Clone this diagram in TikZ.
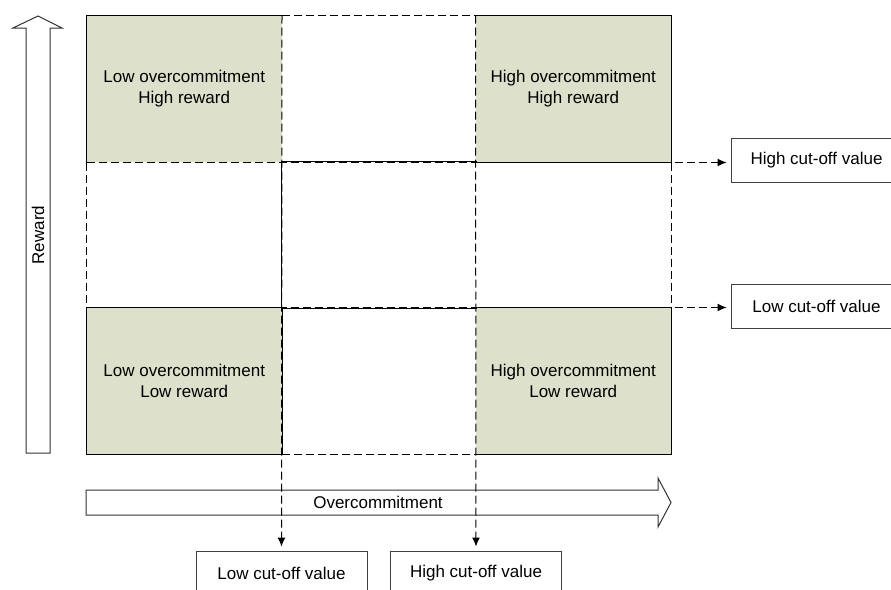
\documentclass[tikz,border=0pt]{standalone}
\usepackage{fontspec}
\setmainfont{Liberation Sans}
\usetikzlibrary{positioning,arrows.meta}
\definecolor{cellgreen}{RGB}{221,224,203}

\begin{document}
\begin{tikzpicture}[x=1pt,y=-1pt,line width=1pt,font=\fontsize{17}{21}\selectfont,
  cell/.style={rectangle,minimum width=194.5pt,minimum height=146pt,inner sep=0pt,align=center},
  good/.style={cell,fill=cellgreen},
  valbox/.style={draw=black!75,fill=white,minimum width=171pt,minimum height=44pt,inner sep=0pt},
  dashedge/.style={dash pattern=on 8pt off 4pt},
  cut/.style={dashedge,-{Latex[length=9pt,width=8pt]},shorten >=4pt}]
     \path[use as bounding box,clip] (0,0) rectangle (891,589);

     % the two axis arrows
     \draw[black!80,fill=white] (26,453) -- (26,28) -- (13,28) -- (38,16) -- (62,28) -- (50,28) -- (50,453) -- cycle;
     \node[rotate=90] (rew) at (38,235) {Reward};
     \draw[black!80,fill=white] (86,490) -- (658,490) -- (658,478) -- (671,502.5) -- (658,527) -- (658,515) -- (86,515) -- cycle;
     \node (over) at (378,502.5) {Overcommitment};

     \node[good] (lohi) at (184.25,89) {Low overcommitment\\High reward};
     \node[good] (hihi) at (573.25,89) {High overcommitment\\High reward};
     \node[cell] (mid) at (378.75,235) {};
     \node[good] (lolo) at (184.25,381) {Low overcommitment\\Low reward};
     \node[good] (hilo) at (573.25,381) {High overcommitment\\Low reward};

     \node[valbox] (locutb) at (281.5,573) {Low cut-off value};
     \node[valbox] (hicutb) at (476,573) {High cut-off value};
     \node[valbox] (hicutr) at (816.5,160) {High cut-off value};
     \node[valbox] (locutr) at (816.5,306.5) {Low cut-off value};

     % solid edges
     \draw (lohi.south west) |- (lohi.north east);
     \draw (hihi.north west) -| (hihi.south east) -- (hihi.south west);
     \draw (lolo.north west) rectangle (lolo.south east);
     \draw (hilo.north west) -| (hilo.south east) -- (hilo.south west);
     \draw (mid.north east) -- (mid.north west) -- (mid.south west) -- (mid.south east);

     % dashed edges
     \draw[dashedge] (lohi.north east) -- (hihi.north west);
     \draw[dashedge] (lolo.south east) -- (hilo.south west);
     \draw[dashedge] (lohi.south west) -- (lolo.north west);
     \draw[dashedge] (hihi.south east) -- (hilo.north east);

     \draw[cut] (lohi.north east) -- (locutb.north);
     \draw[cut] (hihi.north west) -- (hicutb.north);
     \draw[cut] (lohi.south west) -- (lohi.south west -| hicutr.west);
     \draw[cut] (lolo.north west) -- (lolo.north west -| locutr.west);
    \end{tikzpicture}
\end{document}
